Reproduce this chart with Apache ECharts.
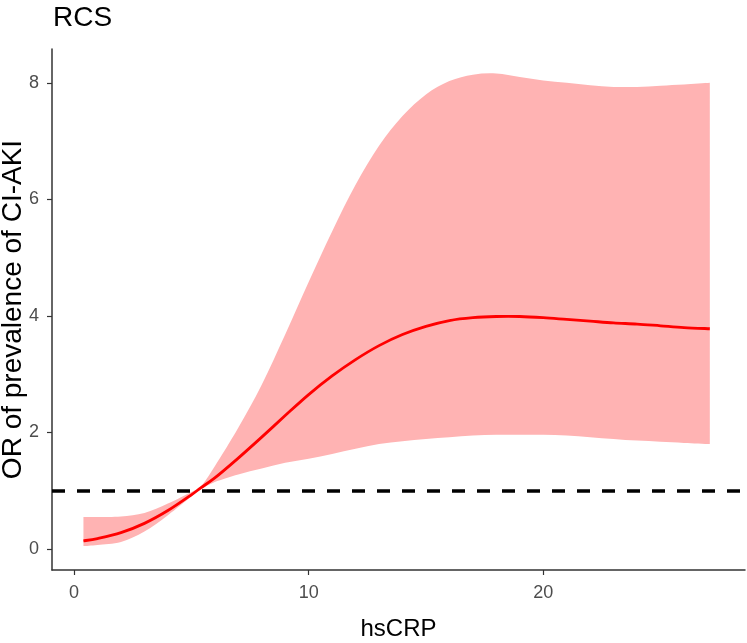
<!DOCTYPE html>
<html>
<head>
<meta charset="utf-8">
<script src="https://cdn.jsdelivr.net/npm/echarts@6/dist/echarts.min.js"></script>
<style>
html,body{margin:0;padding:0;background:#fff;}
#chart{width:747px;height:643px;}
</style>
</head>
<body>
<div id="chart"></div>
<script>
var hsCRP = [0.4, 1, 2, 3, 4, 5, 5.4, 6, 7, 8, 9, 10, 11, 12, 13, 14, 15, 16, 17, 18, 19, 20, 21, 22, 23, 24, 25, 26, 27.1];
var orValue = [0.14, 0.18, 0.28, 0.44, 0.66, 0.93, 1.05, 1.22, 1.56, 1.92, 2.29, 2.65, 2.97, 3.25, 3.49, 3.68, 3.82, 3.92, 3.97, 3.99, 3.99, 3.97, 3.94, 3.91, 3.88, 3.86, 3.83, 3.80, 3.78];
var upperCI = [0.55, 0.55, 0.56, 0.62, 0.78, 0.98, 1.07, 1.42, 2.08, 2.82, 3.68, 4.58, 5.45, 6.25, 6.92, 7.43, 7.8, 8.03, 8.14, 8.16, 8.1, 8.04, 8.0, 7.96, 7.93, 7.93, 7.95, 7.97, 8.0];
var lowerCI = [0.05, 0.07, 0.12, 0.3, 0.58, 0.9, 1.02, 1.15, 1.28, 1.38, 1.48, 1.55, 1.63, 1.72, 1.8, 1.85, 1.89, 1.92, 1.95, 1.96, 1.96, 1.96, 1.95, 1.92, 1.89, 1.86, 1.84, 1.82, 1.80];
var xTicks = [0, 10, 20];
var yTicks = [0, 2, 4, 6, 8];
var refOR = 1;

var chart = echarts.init(document.getElementById('chart'));
var font = 'Liberation Sans, Arial, sans-serif';

// Catmull-Rom -> cubic Bezier path segments through pixel points
function smoothSegs(pts) {
  var s = '';
  for (var i = 0; i < pts.length - 1; i++) {
    var p0 = pts[Math.max(i - 1, 0)], p1 = pts[i], p2 = pts[i + 1], p3 = pts[Math.min(i + 2, pts.length - 1)];
    var c1x = p1[0] + (p2[0] - p0[0]) / 6, c1y = p1[1] + (p2[1] - p0[1]) / 6;
    var c2x = p2[0] - (p3[0] - p1[0]) / 6, c2y = p2[1] - (p3[1] - p1[1]) / 6;
    s += ' C' + c1x + ',' + c1y + ' ' + c2x + ',' + c2y + ' ' + p2[0] + ',' + p2[1];
  }
  return s;
}
function coords(api, ys) { return hsCRP.map(function (x, i) { return api.coord([x, ys[i]]); }); }

function renderBand(params, api) {
  var up = coords(api, upperCI);
  var lo = coords(api, lowerCI).reverse();
  var d = 'M' + up[0][0] + ',' + up[0][1] + smoothSegs(up) +
          ' L' + lo[0][0] + ',' + lo[0][1] + smoothSegs(lo) + ' Z';
  return { type: 'path', shape: { pathData: d }, style: { fill: '#FFB3B3' }, silent: true };
}
function renderLine(params, api) {
  var p = coords(api, orValue);
  var d = 'M' + p[0][0] + ',' + p[0][1] + smoothSegs(p);
  return { type: 'path', shape: { pathData: d }, style: { fill: null, stroke: '#FF0000', lineWidth: 2.8, lineJoin: 'round' }, silent: true };
}

chart.setOption({
  animation: false,
  backgroundColor: '#ffffff',
  title: {
    text: 'RCS', left: 48, top: -1,
    textStyle: { fontFamily: font, fontSize: 28, fontWeight: 'normal', color: '#000' }
  },
  grid: { left: 52, top: 49, right: 2, bottom: 73, outerBoundsMode: 'none', containLabel: false },
  xAxis: {
    type: 'value', min: -0.94, max: 28.6,
    name: 'hsCRP', nameLocation: 'middle', nameGap: 47, nameMoveOverlap: false,
    nameTextStyle: { fontFamily: font, fontSize: 24, color: '#000' },
    axisLine: { show: true, onZero: false, lineStyle: { color: '#333', width: 1.5 } },
    axisTick: { show: true, length: 5, customValues: xTicks, lineStyle: { color: '#333', width: 1.2 } },
    axisLabel: { customValues: xTicks, margin: 14, fontFamily: font, fontSize: 18, color: '#4d4d4d' },
    splitLine: { show: false }
  },
  yAxis: {
    type: 'value', min: -0.36, max: 8.58,
    name: 'OR of prevalence of CI-AKI', nameLocation: 'middle', nameGap: 25, nameMoveOverlap: false,
    nameTextStyle: { fontFamily: font, fontSize: 28, color: '#000' },
    axisLine: { show: true, onZero: false, lineStyle: { color: '#333', width: 1.5 } },
    axisTick: { show: true, length: 5, customValues: yTicks, lineStyle: { color: '#333', width: 1.2 } },
    axisLabel: { customValues: yTicks, margin: 13, fontFamily: font, fontSize: 18, color: '#4d4d4d' },
    splitLine: { show: false }
  },
  series: [
    {
      name: 'CI band', type: 'custom', renderItem: renderBand,
      data: [[hsCRP[0], lowerCI[0]]], z: 1, silent: true
    },
    {
      name: 'ref', type: 'line', data: [], symbol: 'none', z: 2, silent: true,
      markLine: {
        silent: true, symbol: 'none', label: { show: false },
        lineStyle: { color: '#000', width: 3.5, type: [13, 12] },
        data: [{ yAxis: refOR }]
      }
    },
    {
      name: 'OR', type: 'custom', renderItem: renderLine,
      data: [[hsCRP[0], orValue[0]]], z: 3, silent: true
    }
  ]
});
</script>
</body>
</html>
